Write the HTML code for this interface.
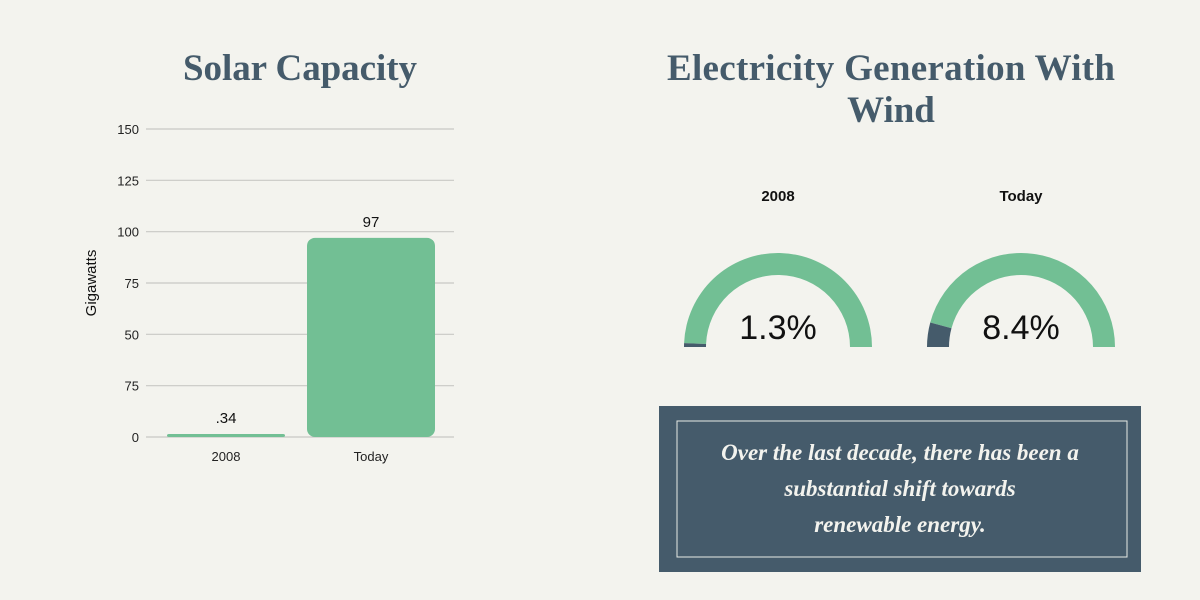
<!DOCTYPE html>
<html><head><meta charset="utf-8"><style>
body{margin:0;background:#f3f3ee;width:1200px;height:600px;overflow:hidden;font-family:"Liberation Sans",sans-serif}
svg{position:absolute;left:0;top:0}
.t{font-family:"Liberation Serif",serif;font-weight:bold;fill:#455b6b}
</style></head><body>
<svg width="1200" height="600">
<text class="t" x="300" y="80" font-size="37" text-anchor="middle" textLength="234">Solar Capacity</text>
<text class="t" x="891" y="80" font-size="37" text-anchor="middle" textLength="448">Electricity Generation With</text>
<text class="t" x="891" y="122" font-size="37" text-anchor="middle">Wind</text>
<text transform="translate(96,283) rotate(-90)" font-size="15" text-anchor="middle" fill="#111">Gigawatts</text>
<g id="bars"></g>
<g id="gauges"></g>
<rect x="659" y="406" width="482" height="166" fill="#455b6b"/>
<rect x="677" y="421" width="450" height="136" fill="none" stroke="#e8ebe6" stroke-width="1"/>
<g font-family="Liberation Serif,serif" font-style="italic" font-weight="bold" font-size="23" fill="#f3f3ee" text-anchor="middle">
<text x="900" y="460">Over the last decade, there has been a</text>
<text x="900" y="496">substantial shift towards</text>
<text x="900" y="532">renewable energy.</text></g>
</svg>
<script>
const ticks=[0,25,50,75,100,125,150];
const tickLabels=["0","75","50","75","100","125","150"];
const categories=["2008","Today"];
const values=[0.34,97];
const valueLabels=[".34","97"];
const gaugeYears=["2008","Today"];
const gaugeValues=[1.3,8.4];
const ns="http://www.w3.org/2000/svg";
function mk(t,a,p){const e=document.createElementNS(ns,t);for(const k in a)e.setAttribute(k,a[k]);p.appendChild(e);return e;}
const y=v=>437-v*(437-129)/150;
const bx=i=>[226,371][i];
const B=document.getElementById('bars');
ticks.forEach((t,i)=>{
 const l=mk('line',{x1:146,x2:454,y1:y(t),y2:y(t),stroke:'#c8c8c4','stroke-width':1.2},B);
 
 
 const tx=mk('text',{x:139,y:y(t)+5,'font-size':13,'text-anchor':'end',fill:'#222'},B);tx.textContent=tickLabels[i];
 
 
});
categories.forEach((c,i)=>{
 const w=i==0?118:128,top=Math.min(y(values[i]),y(0)-3);
 const r=mk('rect',{x:bx(i)-w/2,y:top,width:w,height:y(0)-top,rx:i==0?2:8,fill:'#72bf94'},B);
 
 
 const v=mk('text',{x:bx(i),y:top-11,'font-size':15,'text-anchor':'middle',fill:'#111'},B);v.textContent=valueLabels[i];
 
 
 const xl=mk('text',{x:bx(i),y:461,'font-size':13,'text-anchor':'middle',fill:'#222'},B);xl.textContent=c;
 
 
});
const G=document.getElementById('gauges');
const R=94,r0=72;
function arc(cx,cy,a0,a1,col){
 const p=(rad,a)=>[cx-rad*Math.cos(a),cy-rad*Math.sin(a)];
 const [x0,y0]=p(R,a0),[x1,y1]=p(R,a1),[x2,y2]=p(r0,a1),[x3,y3]=p(r0,a0);
 return mk('path',{d:`M${x0},${y0}A${R},${R} 0 0 1 ${x1},${y1}L${x2},${y2}A${r0},${r0} 0 0 0 ${x3},${y3}Z`,fill:col},G);
}
gaugeYears.forEach((g,i)=>{
 const cx=[778,1021][i],cy=347,a=gaugeValues[i]/100*Math.PI;
 const lab=mk('text',{x:cx,y:201,'font-size':15,'font-weight':'bold','text-anchor':'middle',fill:'#111'},G);lab.textContent=g;
 
 
 const bg=arc(cx,cy,a,Math.PI,'#72bf94');
 
 
 const fg=arc(cx,cy,0,a,'#455b6b');
 
 
 const t=mk('text',{x:cx,y:339,'font-size':34,'text-anchor':'middle',fill:'#111'},G);t.textContent=gaugeValues[i]+'%';
 
 
});
</script>
</body></html>
